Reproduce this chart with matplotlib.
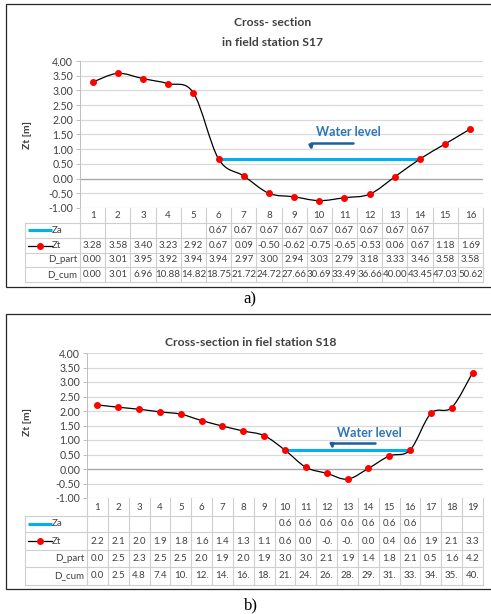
import numpy as np
import matplotlib
matplotlib.use('Agg')
import matplotlib.pyplot as plt
from matplotlib.path import Path
from matplotlib.patches import PathPatch, Rectangle

plt.rcParams['font.family'] = ['Lato', 'DejaVu Sans']

W, H = 491, 614
nan = np.nan

# station S17
s17_pts = list(range(1, 17))
s17_za = [nan, nan, nan, nan, nan, 0.67, 0.67, 0.67, 0.67, 0.67, 0.67, 0.67, 0.67, 0.67, nan, nan]
s17_zt = [3.28, 3.58, 3.40, 3.23, 2.92, 0.67, 0.09, -0.50, -0.62, -0.75, -0.65, -0.53, 0.06, 0.67, 1.18, 1.69]
s17_dpart = [0.00, 3.01, 3.95, 3.92, 3.94, 3.94, 2.97, 3.00, 2.94, 3.03, 2.79, 3.18, 3.33, 3.46, 3.58, 3.58]
s17_dcum = [0.00, 3.01, 6.96, 10.88, 14.82, 18.75, 21.72, 24.72, 27.66, 30.69, 33.49, 36.66, 40.00, 43.45, 47.03, 50.62]

# station S18 (table cells are cut by excel, so only 3 chars are shown)
s18_pts = list(range(1, 20))
s18_za = [nan] * 9 + [0.65, 0.65, 0.65, 0.65, 0.65, 0.65, 0.65] + [nan] * 3
s18_zt = [2.21, 2.13, 2.06, 1.97, 1.89, 1.67, 1.48, 1.31, 1.15, 0.65, 0.06, -0.15, -0.35, 0.02, 0.45, 0.65, 1.92, 2.12, 3.32]
s18_dpart = [0.00, 2.54, 2.35, 2.59, 2.58, 2.05, 1.95, 2.02, 1.93, 3.04, 3.02, 2.14, 1.93, 1.45, 1.82, 2.14, 0.56, 1.64, 4.27]
s18_dcum = [0.00, 2.54, 4.89, 7.48, 10.06, 12.11, 14.06, 16.08, 18.01, 21.05, 24.07, 26.21, 28.14, 29.59, 31.41, 33.55, 34.11, 35.75, 40.02]

yticks = [-1.0, -0.5, 0.0, 0.5, 1.0, 1.5, 2.0, 2.5, 3.0, 3.5, 4.0]

TXT = '#404040'
GRID = '#D9D9D9'
CYAN = '#00B0F0'


def smooth_path(x, y):
    # excel-like smoothed line (bezier through the points)
    p = np.column_stack([x, y]).astype(float)
    n = len(p)
    verts = [p[0]]
    codes = [Path.MOVETO]
    for i in range(n - 1):
        p0 = p[max(i - 1, 0)]
        p3 = p[min(i + 2, n - 1)]
        verts += [p[i] + (p[i + 1] - p0) / 6, p[i + 1] - (p3 - p[i]) / 6, p[i + 1]]
        codes += [Path.CURVE4] * 3
    return Path(verts, codes)


def fig_rect(l, t, r, b):
    return [l / W, 1 - b / H, (r - l) / W, (b - t) / H]


def section(pts, za, zt, dpart, dcum, g, fmt):
    n = len(pts)
    ax = fig.add_axes(fig_rect(g['left'], g['top'], 483, g['rows'][0]))
    ax.set_xlim(0.5, n + 0.5)
    ax.set_ylim(-1, 4)
    ax.set_yticks(yticks)
    ax.set_yticklabels(['%.2f' % v for v in yticks], fontsize=7.6, color=TXT)
    ax.set_xticks([])
    for s in ['top', 'right', 'bottom']:
        ax.spines[s].set_visible(False)
    ax.spines['left'].set_color('#BFBFBF')
    ax.spines['left'].set_linewidth(0.7)
    ax.tick_params(axis='y', length=3, width=0.7, color='#BFBFBF', pad=2)
    for v in yticks:
        ax.axhline(v, color=GRID, lw=0.9, zorder=0)
    ax.axhline(0, color='#A6A6A6', lw=0.9, zorder=1)
    ax.set_facecolor('none')

    ax.plot(pts, za, color=CYAN, lw=2.2, zorder=2, solid_capstyle='butt')
    ax.add_patch(PathPatch(smooth_path(pts, zt), fc='none', ec='black', lw=0.9, zorder=3))
    ax.plot(pts, zt, 'o', color='red', ms=4, zorder=4)

    # water level note
    tx, ty, ex, ey, hx, hy = g['note']
    ax.text(tx, ty, 'Water level', color='#2E75B6', fontsize=9, fontweight='bold', va='center', ha='left')
    ax.annotate('', xy=(hx, hy), xytext=(ex, ey),
                arrowprops=dict(arrowstyle='-|>', color='#1F5F99', lw=1.8, mutation_scale=5,
                                connectionstyle='angle,angleA=0,angleB=90,rad=0',
                                shrinkA=0, shrinkB=0))

    # data table
    rows = g['rows']
    colw = (483 - g['left']) / n
    x0 = 0.5 - (g['left'] - 25) / colw
    tb = fig.add_axes(fig_rect(25, rows[0], 483, rows[-1]))
    tb.set_xlim(x0, n + 0.5)
    tb.set_ylim(rows[-1], rows[0])
    tb.axis('off')
    lc = '#CFCFCF'
    for k, yy in enumerate(rows):
        if k == 0:
            continue
        tb.plot([x0, n + 0.5], [yy, yy], color=lc, lw=0.8, clip_on=False)
    tb.plot([x0, x0], [rows[1], rows[-1]], color=lc, lw=0.8, clip_on=False)
    for c in range(n + 1):
        tb.plot([c + 0.5, c + 0.5], [rows[0], rows[-1]], color=lc, lw=0.8, clip_on=False)
    mid = [(rows[k] + rows[k + 1]) / 2 for k in range(5)]
    fs = 7.0
    for i in range(n):
        xc = pts[i]
        tb.text(xc, mid[0], str(pts[i]), ha='center', va='center', fontsize=fs, color=TXT)
        if not np.isnan(za[i]):
            tb.text(xc, mid[1], fmt(za[i]), ha='center', va='center', fontsize=fs, color=TXT)
        tb.text(xc, mid[2], fmt(zt[i]), ha='center', va='center', fontsize=fs, color=TXT)
        tb.text(xc, mid[3], fmt(dpart[i]), ha='center', va='center', fontsize=fs, color=TXT)
        tb.text(xc, mid[4], fmt(dcum[i]), ha='center', va='center', fontsize=fs, color=TXT)
    # legend keys in the row header
    k0 = x0 + 3 / colw
    k1 = x0 + 27 / colw
    tb.plot([k0, k1], [mid[1], mid[1]], color=CYAN, lw=2.2, solid_capstyle='butt')
    tb.plot([k0, k1], [mid[2], mid[2]], color='black', lw=0.9)
    tb.plot([(k0 + k1) / 2], [mid[2]], 'o', color='red', ms=4)
    tb.text(k1, mid[1], 'Za', ha='left', va='center', fontsize=fs, color=TXT)
    tb.text(k1, mid[2], 'Zt', ha='left', va='center', fontsize=fs, color=TXT)
    xr = 0.5 - 3 / colw
    tb.text(xr, mid[3], 'D_part', ha='right', va='center', fontsize=fs, color=TXT)
    tb.text(xr, mid[4], 'D_cum', ha='right', va='center', fontsize=fs, color=TXT)


fig = plt.figure(figsize=(W / 100, H / 100), dpi=100)
bg = fig.add_axes([0, 0, 1, 1])
bg.set_xlim(0, W)
bg.set_ylim(H, 0)
bg.axis('off')

# frames and captions
bg.add_patch(Rectangle((6, 4), 495, 283, fc='white', ec='#262626', lw=0.9))
bg.add_patch(Rectangle((6, 314), 495, 275, fc='white', ec='#262626', lw=0.9))
bg.text(250, 299, 'a)', ha='center', va='center', fontsize=12, family='Liberation Serif')
bg.text(251, 605, 'b)', ha='center', va='center', fontsize=12, family='Liberation Serif')

bg.text(273, 23, 'Cross- section', ha='center', va='center', fontsize=8.7, fontweight='bold', color=TXT)
bg.text(273, 42, 'in field station S17', ha='center', va='center', fontsize=8.7, fontweight='bold', color=TXT)
bg.text(251, 342, 'Cross-section in fiel station S18', ha='center', va='center', fontsize=8.7,
        fontweight='bold', color=TXT)
bg.text(28, 135, 'Zt [m]', ha='center', va='center', rotation=90, fontsize=7.5, fontweight='bold', color=TXT)
bg.text(28, 422, 'Zt [m]', ha='center', va='center', rotation=90, fontsize=7.5, fontweight='bold', color=TXT)

g17 = dict(left=80, top=61, rows=[208, 223, 238, 253, 267, 282],
           note=(9.87, 1.58, 11.33, 1.21, 9.67, 0.97))
g18 = dict(left=87, top=353, rows=[498, 516, 532, 550, 567, 585],
           note=(12.5, 1.24, 14.32, 0.90, 12.26, 0.70))

section(s17_pts, s17_za, s17_zt, s17_dpart, s17_dcum, g17, lambda v: '%.2f' % v)
section(s18_pts, s18_za, s18_zt, s18_dpart, s18_dcum, g18, lambda v: ('%.2f' % v)[:3])

fig.savefig('out.png', dpi=100)
